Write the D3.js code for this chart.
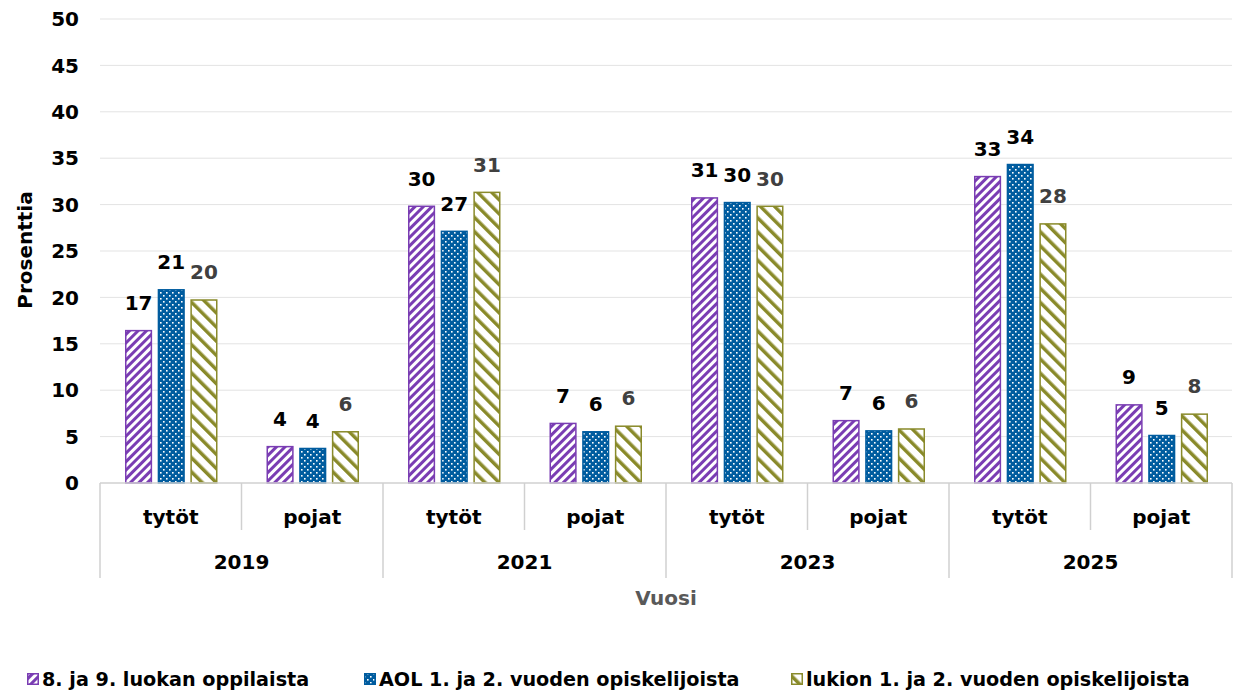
<!DOCTYPE html>
<html><head><meta charset="utf-8">
<script src="https://cdn.jsdelivr.net/npm/d3@7"></script>
<style>body{margin:0;background:#fff}svg{display:block;font-family:"DejaVu Sans",sans-serif;font-weight:700}</style>
</head><body><svg id="c" width="1242" height="694"></svg>
<script>
const years = ["2019","2021","2023","2025"];
const genders = ["tytöt","pojat"];
const seriesNames = ["8. ja 9. luokan oppilaista","AOL 1. ja 2. vuoden opiskelijoista","lukion 1. ja 2. vuoden opiskelijoista"];
// values per series, order: 2019 tytöt, 2019 pojat, 2021 tytöt, 2021 pojat, ...
const s1 = [16.5, 4.0, 29.9, 6.5, 30.8, 6.8, 33.1, 8.5];
const s2 = [20.9, 3.8, 27.2, 5.6, 30.3, 5.7, 34.4, 5.2];
const s3 = [19.8, 5.6, 31.4, 6.2, 29.9, 5.9, 28.0, 7.5];
const yTicks = [0,5,10,15,20,25,30,35,40,45,50];
const colors = ["#7a3db3","#005c9f","#898a2a"];
const labelColors = ["#000","#000","#404040"];
const values = [s1,s2,s3];

const svg = d3.select("#c");
const L=100,R=1232,T=19,B=483;
const y = d3.scaleLinear().domain([0,50]).range([B,T]);
const xYear = d3.scaleBand().domain(years).range([L,R]);
const xGender = d3.scaleBand().domain(genders).range([0,xYear.bandwidth()]);
const xSeries = d3.scaleBand().domain([0,1,2]).range([25,xGender.bandwidth()-24]).paddingInner(0.17);

// patterns
const defs = svg.append("defs");
const p1 = defs.append("pattern").attr("id","p0").attr("patternUnits","userSpaceOnUse").attr("width",6).attr("height",6).attr("patternTransform","rotate(45)");
p1.append("rect").attr("width",6).attr("height",6).attr("fill","#fff");
p1.append("rect").attr("width",3).attr("height",6).attr("fill",colors[0]);
const p2 = defs.append("pattern").attr("id","p1").attr("patternUnits","userSpaceOnUse").attr("width",6).attr("height",6);
p2.append("rect").attr("width",6).attr("height",6).attr("fill",colors[1]);
p2.append("rect").attr("x",1).attr("y",1).attr("width",1.6).attr("height",1.6).attr("fill","#fff");
p2.append("rect").attr("x",4).attr("y",4).attr("width",1.6).attr("height",1.6).attr("fill","#fff");
const p3 = defs.append("pattern").attr("id","p2").attr("patternUnits","userSpaceOnUse").attr("width",10).attr("height",10).attr("patternTransform","rotate(-45)");
p3.append("rect").attr("width",10).attr("height",10).attr("fill","#fff");
p3.append("rect").attr("width",3.5).attr("height",10).attr("fill",colors[2]);

// grid
svg.append("g").selectAll("line").data(yTicks.filter(d=>d>0)).join("line")
  .attr("x1",L).attr("x2",R).attr("y1",d=>y(d)).attr("y2",d=>y(d))
  .attr("stroke","#e3e3e3").attr("stroke-width",1);

// y axis labels
svg.append("g").selectAll("text").data(yTicks).join("text")
  .attr("x",79).attr("y",d=>y(d)).attr("dy","0.36em").attr("text-anchor","end")
  .attr("font-size",20).attr("fill","#000").text(d=>d);
svg.append("text").attr("transform","translate(32,250) rotate(-90)").attr("text-anchor","middle")
  .attr("font-size",20).attr("fill","#000").text("Prosenttia");

// bars
const cats = [];
years.forEach(yr=>genders.forEach(g=>cats.push({yr,g})));
const gBars = svg.append("g");
values.forEach((vals,si)=>{
  gBars.append("g").selectAll("rect").data(cats.map((c,i)=>({...c,v:vals[i]}))).join("rect")
    .attr("x",d=>xYear(d.yr)+xGender(d.g)+xSeries(si)+0.75)
    .attr("width",xSeries.bandwidth()-1.5)
    .attr("y",d=>y(d.v)+0.75)
    .attr("height",d=>B-y(d.v)-0.75)
    .attr("fill",`url(#p${si})`).attr("stroke",colors[si]).attr("stroke-width",1.5);
  gBars.append("g").selectAll("text").data(cats.map((c,i)=>({...c,v:vals[i]}))).join("text")
    .attr("x",d=>xYear(d.yr)+xGender(d.g)+xSeries(si)+xSeries.bandwidth()/2)
    .attr("y",d=>y(d.v)-20)
    .attr("text-anchor","middle").attr("font-size",20).attr("fill",labelColors[si])
    .text(d=>Math.round(d.v));
});

// category axis
const axisC="#d0d0d0";
svg.append("line").attr("x1",L).attr("x2",R).attr("y1",B).attr("y2",B).attr("stroke",axisC).attr("stroke-width",1.5);
const gTicks = svg.append("g");
years.forEach((yr,i)=>{
  const x0 = xYear(yr);
  gTicks.append("line").attr("x1",x0).attr("x2",x0).attr("y1",B).attr("y2",578).attr("stroke",axisC).attr("stroke-width",1.5);
  gTicks.append("line").attr("x1",x0+xGender("pojat")).attr("x2",x0+xGender("pojat")).attr("y1",B).attr("y2",530).attr("stroke",axisC).attr("stroke-width",1.5);
  genders.forEach(g=>{
    gTicks.append("text").attr("x",x0+xGender(g)+xGender.bandwidth()/2).attr("y",517).attr("dy","0.36em")
      .attr("text-anchor","middle").attr("font-size",20).attr("fill","#000").text(g);
  });
  gTicks.append("text").attr("x",x0+xYear.bandwidth()/2).attr("y",562).attr("dy","0.36em")
    .attr("text-anchor","middle").attr("font-size",20).attr("fill","#000").text(yr);
});
gTicks.append("line").attr("x1",R).attr("x2",R).attr("y1",B).attr("y2",578).attr("stroke",axisC).attr("stroke-width",1.5);
svg.append("text").attr("x",666).attr("y",598).attr("dy","0.36em").attr("text-anchor","middle")
  .attr("font-size",20).attr("fill","#595959").text("Vuosi");

// legend
const legX=[27,364,791];
const lg = svg.append("g");
seriesNames.forEach((n,i)=>{
  lg.append("rect").attr("x",legX[i]+0.75).attr("y",673.75).attr("width",10.5).attr("height",10.5)
    .attr("fill",`url(#p${i})`).attr("stroke",colors[i]).attr("stroke-width",1.5);
  lg.append("text").attr("x",legX[i]+15).attr("y",679).attr("dy","0.36em").attr("font-size",19.2)
    .attr("fill","#000").text(n);
});
</script></body></html>
